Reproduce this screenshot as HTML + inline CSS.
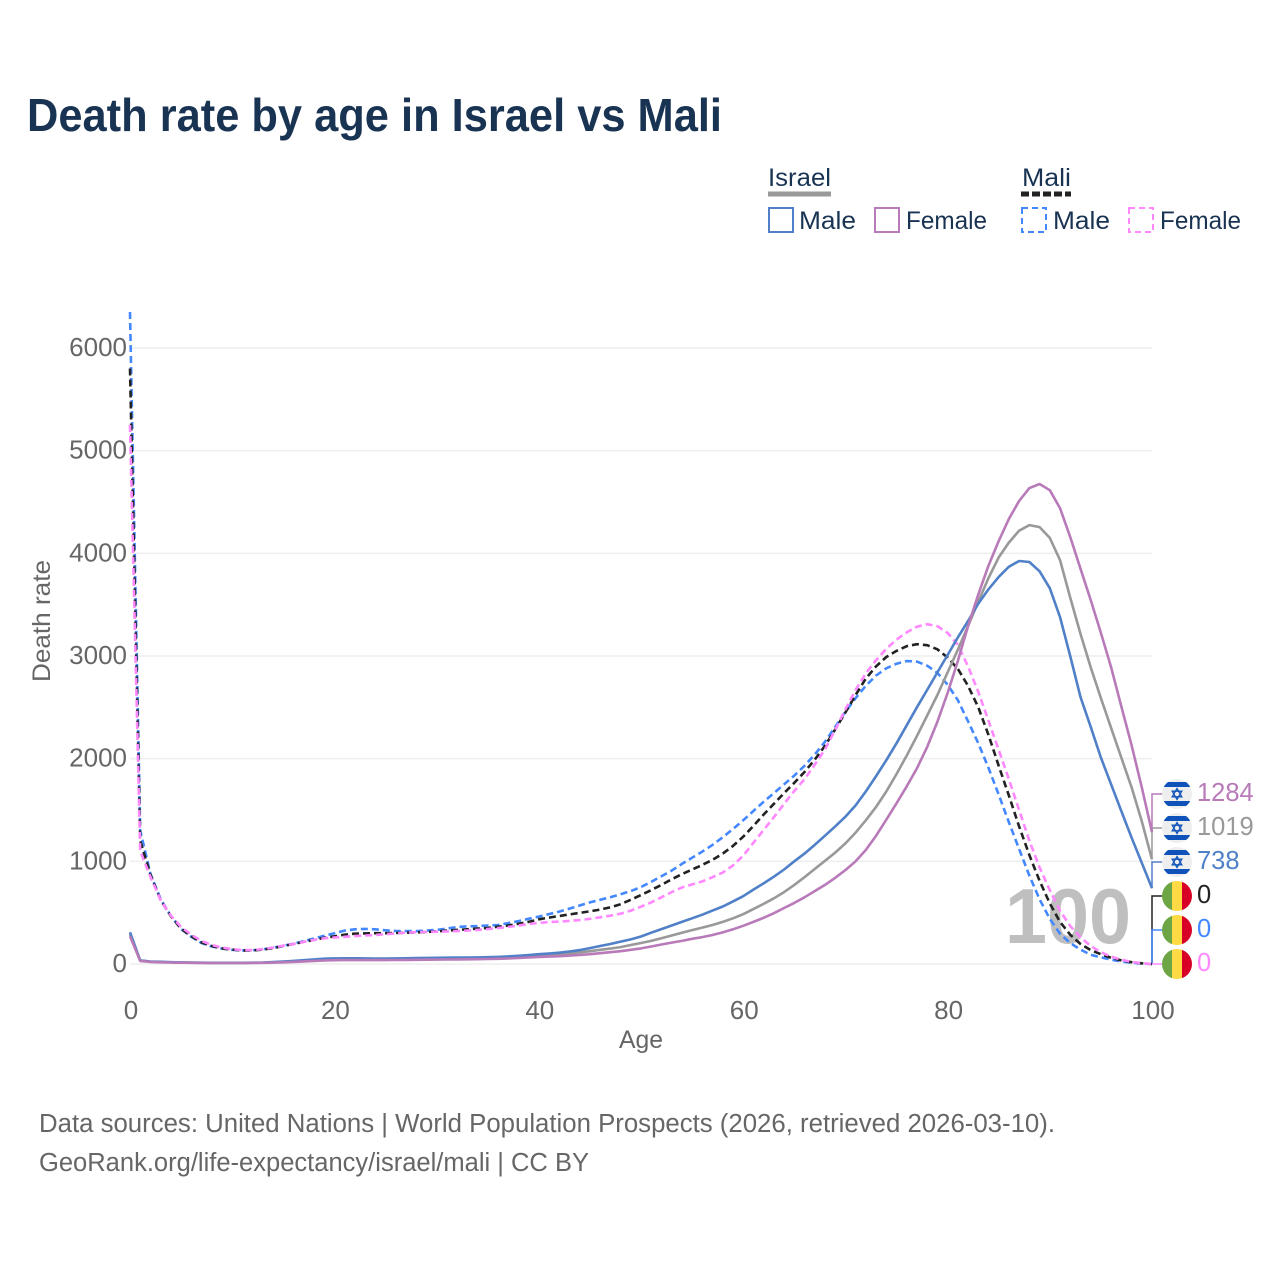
<!DOCTYPE html>
<html lang="en">
<head>
<meta charset="utf-8">
<title>Death rate by age in Israel vs Mali</title>
<style>
html,body{margin:0;padding:0;background:#fff;width:1280px;height:1280px;overflow:hidden}
svg{display:block}
text{font-family:"Liberation Sans",sans-serif}
</style>
</head>
<body>
<svg id="chart" width="1280" height="1280" viewBox="0 0 1280 1280" xmlns="http://www.w3.org/2000/svg">
  <text x="27" y="131" font-size="46" font-weight="700" fill="#193353" textLength="695" lengthAdjust="spacingAndGlyphs">Death rate by age in Israel vs Mali</text>

  <g>
    <text x="768" y="186" font-size="25" fill="#193353" textLength="63" lengthAdjust="spacingAndGlyphs">Israel</text>
    <line x1="768" y1="194" x2="831" y2="194" stroke="#999" stroke-width="5"/>
    <text x="1022" y="186" font-size="25" fill="#193353" textLength="49" lengthAdjust="spacingAndGlyphs">Mali</text>
    <line x1="1021" y1="194" x2="1071" y2="194" stroke="#222" stroke-width="5" stroke-dasharray="8 3"/>

    <rect x="769" y="208" width="24" height="24" fill="none" stroke="#5080c8" stroke-width="2"/>
    <text x="799" y="229" font-size="25" fill="#193353" textLength="57" lengthAdjust="spacingAndGlyphs">Male</text>
    <rect x="875" y="208" width="24" height="24" fill="none" stroke="#b87ab8" stroke-width="2"/>
    <text x="906" y="229" font-size="25" fill="#193353" textLength="81" lengthAdjust="spacingAndGlyphs">Female</text>
    <rect x="1022" y="208" width="24" height="24" fill="none" stroke="#4488ff" stroke-width="2" stroke-dasharray="6 4"/>
    <text x="1053" y="229" font-size="25" fill="#193353" textLength="57" lengthAdjust="spacingAndGlyphs">Male</text>
    <rect x="1129" y="208" width="24" height="24" fill="none" stroke="#ff88ff" stroke-width="2" stroke-dasharray="6 4"/>
    <text x="1160" y="229" font-size="25" fill="#193353" textLength="81" lengthAdjust="spacingAndGlyphs">Female</text>
  </g>

  <g id="grid"></g>
  <g id="yticks"></g>
  <g id="xticks"></g>

  <text x="641" y="1048" font-size="25" fill="#666" text-anchor="middle" textLength="44" lengthAdjust="spacingAndGlyphs">Age</text>
  <text transform="translate(50,621) rotate(-90)" font-size="25" fill="#666" text-anchor="middle" textLength="122" lengthAdjust="spacingAndGlyphs">Death rate</text>

  <text id="watermark" x="1005" y="943" font-size="78" font-weight="700" fill="#bfbfbf" textLength="126" lengthAdjust="spacingAndGlyphs">100</text>

  <g id="connectors"></g>
  <g id="series"></g>
  <g id="endlabels"></g>

  <text x="39" y="1132" font-size="25.5" fill="#666" textLength="1016" lengthAdjust="spacingAndGlyphs">Data sources: United Nations | World Population Prospects (2026, retrieved 2026-03-10).</text>
  <text x="39" y="1171" font-size="25.5" fill="#666" textLength="550" lengthAdjust="spacingAndGlyphs">GeoRank.org/life-expectancy/israel/mali | CC BY</text>
</svg>
<script>
const ages = [
  0,1,2,3,4,5,6,7,8,9,
  10,11,12,13,14,15,16,17,18,19,
  20,21,22,23,24,25,26,27,28,29,
  30,31,32,33,34,35,36,37,38,39,
  40,41,42,43,44,45,46,47,48,49,
  50,51,52,53,54,55,56,57,58,59,
  60,61,62,63,64,65,66,67,68,69,
  70,71,72,73,74,75,76,77,78,79,
  80,81,82,83,84,85,86,87,88,89,
  90,91,92,93,94,95,96,97,98,99,
  100
];
const israelFemale = [
  270,30,20,17,15,13,12,11,10,10,
  10,10,11,12,14,17,20,25,30,34,
  37,38,38,38,38,38,39,40,41,42,
  43,44,45,46,47,49,51,54,58,63,
  68,72,76,82,88,95,105,115,125,138,
  152,170,190,208,225,245,262,282,308,338,
  372,410,450,495,545,595,650,710,770,840,
  915,1000,1110,1250,1405,1565,1730,1905,2115,2360,
  2640,2950,3290,3600,3880,4120,4335,4510,4635,4675,
  4615,4440,4160,3850,3545,3225,2890,2510,2130,1720,
  1284
];
const israelTotal = [
  290,33,22,19,16,14,13,12,11,11,
  11,11,12,13,16,20,25,31,38,44,
  47,48,48,47,46,46,47,48,50,51,
  52,53,54,55,56,58,60,64,69,76,
  84,90,97,105,113,125,138,150,165,185,
  205,225,250,278,305,330,355,380,410,445,
  485,535,585,640,700,770,845,925,1005,1085,
  1175,1280,1400,1530,1680,1850,2030,2220,2420,2620,
  2840,3060,3290,3530,3760,3960,4105,4220,4275,4255,
  4150,3935,3570,3215,2890,2590,2300,2010,1720,1390,
  1019
];
const israelMale = [
  310,35,24,21,18,16,14,13,12,12,
  12,12,13,15,19,24,30,37,45,52,
  55,56,56,55,54,54,55,56,58,59,
  60,61,62,63,64,66,69,74,80,87,
  95,102,110,122,135,155,175,195,218,240,
  268,305,340,375,410,445,480,520,560,610,
  660,725,785,850,920,1000,1075,1160,1250,1340,
  1435,1545,1680,1830,1985,2150,2325,2500,2670,2840,
  3010,3180,3340,3510,3650,3770,3870,3925,3915,3825,
  3660,3380,3000,2600,2310,2010,1750,1490,1230,985,
  738
];
const maliMale = [
  6350,1300,880,630,470,340,265,205,170,150,
  138,132,133,142,158,178,198,222,248,275,
  300,325,338,342,338,328,322,320,320,325,
  332,345,360,366,370,375,380,398,418,440,
  462,486,510,540,570,600,625,650,680,710,
  750,800,855,910,975,1035,1095,1160,1235,1315,
  1400,1490,1580,1665,1750,1835,1930,2040,2165,2310,
  2455,2590,2710,2810,2880,2925,2950,2945,2905,2835,
  2720,2570,2365,2150,1910,1650,1380,1120,860,630,
  440,295,205,140,90,65,42,25,12,5,
  0
];
const maliTotal = [
  5800,1200,870,620,465,345,270,210,175,152,
  140,132,132,140,155,175,195,215,235,255,
  270,285,295,298,300,300,302,305,308,312,
  318,325,332,338,345,352,363,375,392,410,
  435,452,468,483,498,513,530,552,582,625,
  672,720,770,825,875,920,965,1015,1075,1150,
  1240,1345,1455,1560,1665,1765,1870,1990,2125,2285,
  2450,2620,2780,2900,2990,3050,3095,3115,3105,3065,
  2985,2875,2710,2500,2230,1930,1640,1340,1060,810,
  590,410,285,195,135,95,60,35,18,7,
  0
];
const maliFemale = [
  5250,1100,850,620,470,360,285,225,185,160,
  145,135,135,145,160,178,195,215,235,250,
  258,265,272,278,282,290,298,305,310,312,
  315,318,320,325,332,340,350,360,375,390,
  400,408,413,420,428,440,455,470,490,520,
  558,600,650,700,745,775,805,845,890,960,
  1055,1180,1305,1430,1560,1685,1800,1940,2090,2280,
  2480,2670,2830,2960,3070,3160,3230,3285,3310,3290,
  3225,3110,2900,2650,2370,2085,1800,1500,1200,940,
  720,520,370,260,175,115,72,42,20,8,
  0
];
const yTickLabels = [0,1000,2000,3000,4000,5000,6000];
const xTickLabels = [0,20,40,60,80,100];

const NS = 'http://www.w3.org/2000/svg';
function xScale(age){ return 130 + age * 10.22; }
function yScale(v){ return 964 - v * 0.10267; }
function make(tag, attrs, parent){
  const el = document.createElementNS(NS, tag);
  for (const k in attrs) el.setAttribute(k, attrs[k]);
  parent.appendChild(el);
  return el;
}

const gridG = document.getElementById('grid');
const yG = document.getElementById('yticks');
yTickLabels.forEach(function(t){
  const line = make('line', {x1:130, x2:1152, y1:yScale(t), y2:yScale(t), stroke:'#eeeeee', 'stroke-width':1.5}, gridG);
  
  
  const label = make('text', {x:127, y:yScale(t) + 8, 'font-size':26, fill:'#666', 'text-anchor':'end'}, yG);
  
  
  label.textContent = t;
});

const xG = document.getElementById('xticks');
xTickLabels.forEach(function(t){
  const label = make('text', {x:xScale(t) + 1, y:1019, 'font-size':26, fill:'#666', 'text-anchor':'middle'}, xG);
  
  
  label.textContent = t;
});

document.getElementById('watermark').textContent = ages[ages.length - 1];

const seriesList = [
  {key:'mali-male', values:maliMale, color:'#4488ff', dash:'7 4', flag:'mali', slot:4},
  {key:'mali-total', values:maliTotal, color:'#222222', dash:'7 4', flag:'mali', slot:3},
  {key:'mali-female', values:maliFemale, color:'#ff88ff', dash:'7 4', flag:'mali', slot:5},
  {key:'israel-total', values:israelTotal, color:'#999999', dash:'', flag:'israel', slot:1},
  {key:'israel-male', values:israelMale, color:'#5080c8', dash:'', flag:'israel', slot:2},
  {key:'israel-female', values:israelFemale, color:'#b87ab8', dash:'', flag:'israel', slot:0}
];
const slotTop = 794;
const slotStep = 34;

const seriesG = document.getElementById('series');
const connG = document.getElementById('connectors');
const labelG = document.getElementById('endlabels');

seriesList.slice().sort(function(a, b){ return a.slot - b.slot; }).forEach(function(s){
  const last = s.values[s.values.length - 1];
  const endX = xScale(ages[ages.length - 1]);
  const endY = yScale(last);
  const sy = slotTop + s.slot * slotStep;
  const conn = make('polyline', {points:endX + ',' + endY + ' ' + endX + ',' + sy + ' 1162,' + sy, fill:'none', stroke:s.color, 'stroke-width':1.5}, connG);
  
  
});

seriesList.forEach(function(s){
  const pts = ages.map(function(a, i){ return xScale(a).toFixed(1) + ',' + yScale(s.values[i]).toFixed(1); }).join(' ');
  const attrs = {points:pts, fill:'none', stroke:s.color, 'stroke-width':2.6, 'stroke-linejoin':'round'};
  if (s.dash) attrs['stroke-dasharray'] = s.dash;
  const line = make('polyline', attrs, seriesG);
  
  

  const last = s.values[s.values.length - 1];
  const sy = slotTop + s.slot * slotStep;

  const flag = make('g', {transform:'translate(1177,' + sy + ')'}, labelG);
  
  
  const clipId = 'clip-' + s.key;
  const clip = make('clipPath', {id:clipId}, flag);
  make('circle', {r:15, cx:0, cy:0}, clip);
  const body = make('g', {'clip-path':'url(#' + clipId + ')'}, flag);
  if (s.flag === 'israel') {
    make('rect', {x:-15, y:-15, width:30, height:30, fill:'#eeeeee'}, body);
    make('rect', {x:-15, y:-12, width:30, height:5, fill:'#0f52ba'}, body);
    make('rect', {x:-15, y:7, width:30, height:5, fill:'#0f52ba'}, body);
    make('polygon', {points:'0,-5.5 4.8,2.8 -4.8,2.8', fill:'none', stroke:'#0f52ba', 'stroke-width':1.3}, body);
    make('polygon', {points:'0,5.5 4.8,-2.8 -4.8,-2.8', fill:'none', stroke:'#0f52ba', 'stroke-width':1.3}, body);
  } else {
    make('rect', {x:-15, y:-15, width:10, height:30, fill:'#6da544'}, body);
    make('rect', {x:-5, y:-15, width:10, height:30, fill:'#ffda44'}, body);
    make('rect', {x:5, y:-15, width:10, height:30, fill:'#d80027'}, body);
  }

  const label = make('text', {x:1197, y:sy + 7, 'font-size':25.5, fill:s.color}, labelG);
  
  
  label.textContent = last;
});
</script>
</body>
</html>
